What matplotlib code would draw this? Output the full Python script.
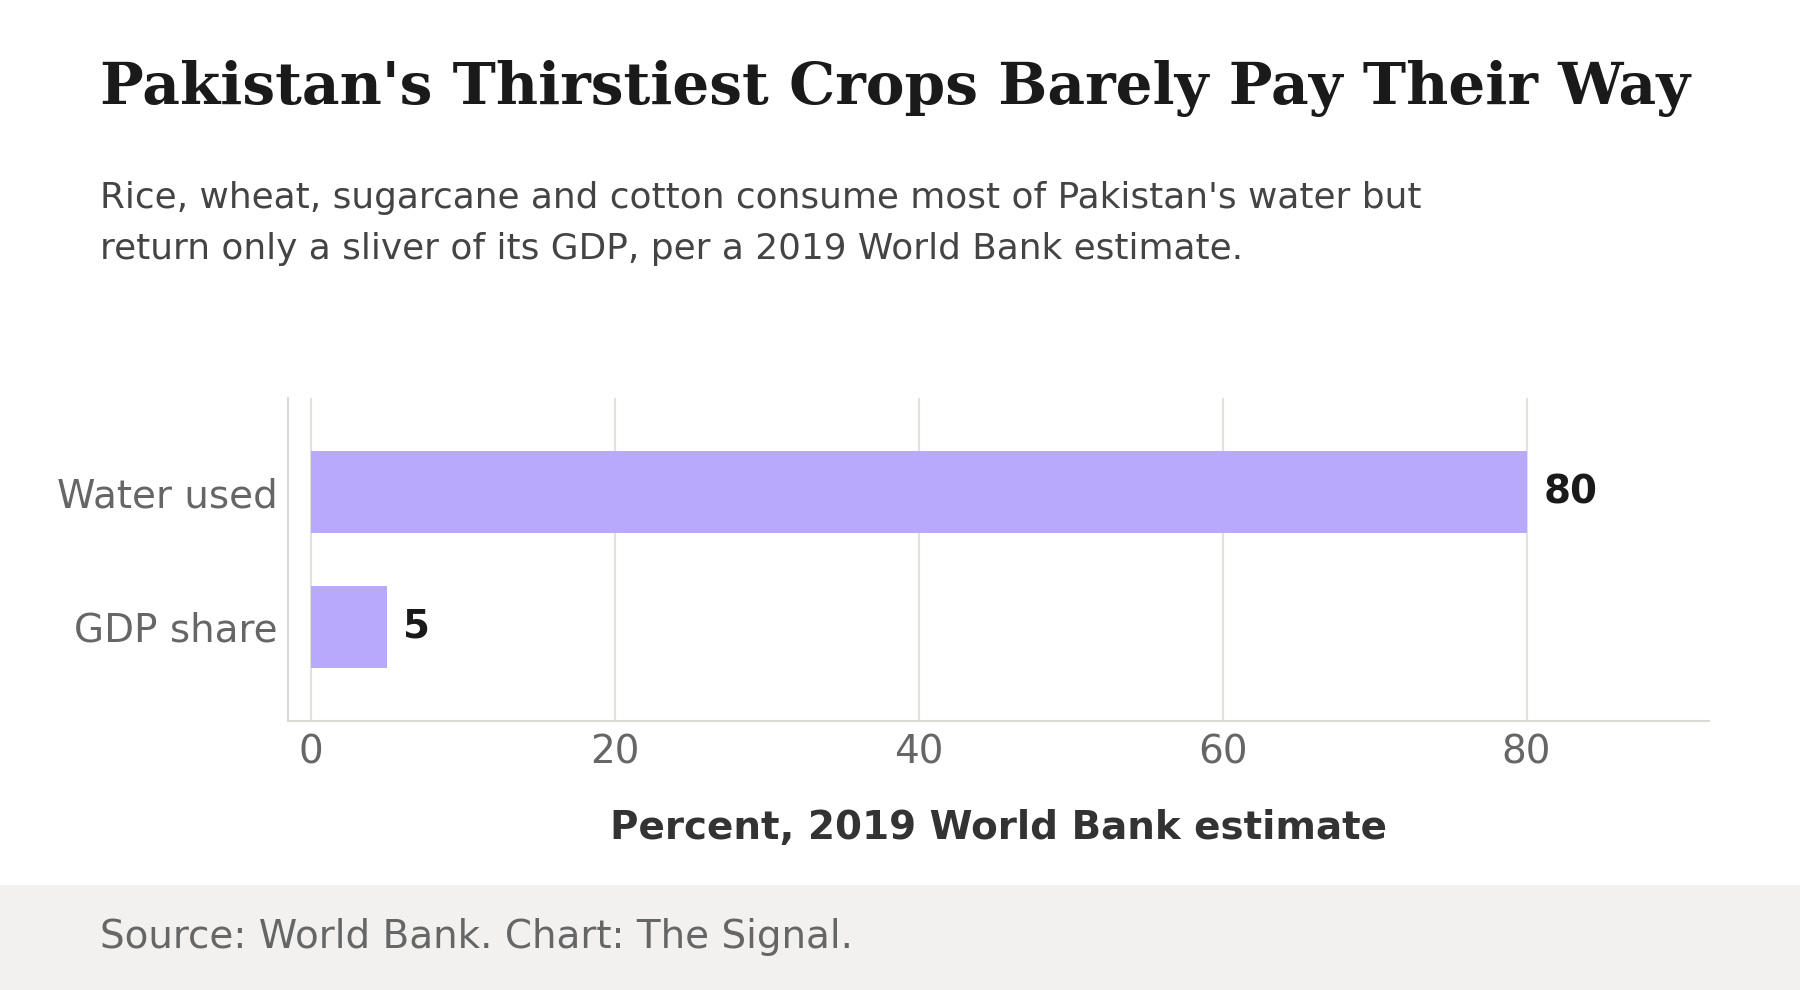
"""Pakistan: água usada x participação no PIB das culturas mais sedentas."""

import matplotlib

matplotlib.use("Agg")
import matplotlib.pyplot as plt  # noqa: E402
from matplotlib.patches import Rectangle  # noqa: E402

# dados
categorias = ["GDP share", "Water used"]
valores = [5, 80]

_ROXO = "#b8a9fd"
_TITULO = "#1a1a1a"
_CINZA = "#666666"
_GRADE = "#e3e1de"

fig = plt.figure(figsize=(18, 9.9), dpi=100)
fig.patch.set_facecolor("white")

# --- faixa cinza do rodapé ---
fig.patches.append(Rectangle((0, 0), 1, 0.106, transform=fig.transFigure,
                             facecolor="#f2f1ef", edgecolor="none", zorder=0))

# --- título e subtítulo ---
fig.text(0.0555, 0.895, "Pakistan's Thirstiest Crops Barely Pay Their Way",
         family="DejaVu Serif", fontweight="bold", fontsize=41.9,
         color=_TITULO, va="baseline")
fig.text(0.0555, 0.790, "Rice, wheat, sugarcane and cotton consume most of Pakistan's water but",
         fontsize=25.8, color="#444444", va="baseline")
fig.text(0.0555, 0.738, "return only a sliver of its GDP, per a 2019 World Bank estimate.",
         fontsize=25.8, color="#444444", va="baseline")

# --- gráfico de barras horizontais ---
ax = fig.add_axes((0.16, 0.2717, 0.7894, 0.3263))
pos = list(range(len(categorias)))
ax.barh(pos, valores, height=0.61, color=_ROXO, zorder=2)
ax.set_yticks(pos, categorias)
ax.set_xticks([0, 20, 40, 60, 80])
ax.set_xlim(-1.5, 92)
ax.set_ylim(-0.7, 1.7)

ax.grid(axis="x", color=_GRADE, linewidth=1.5, zorder=0)
ax.set_axisbelow(True)
for lado in ["top", "right"]:
    ax.spines[lado].set_visible(False)
for lado in ["left", "bottom"]:
    ax.spines[lado].set_color("#dcdad6")
    ax.spines[lado].set_linewidth(1.5)
ax.tick_params(length=0, labelsize=28, labelcolor=_CINZA)
ax.tick_params(axis="y", pad=7.5)
ax.tick_params(axis="x", pad=9)

ax.set_xlabel("Percent, 2019 World Bank estimate", fontsize=28,
              fontweight="bold", color="#333333", va="baseline")
ax.xaxis.set_label_coords(0.5, -0.365)

# rótulo do valor na ponta de cada barra
for y, v in zip(pos, valores):
    ax.annotate(f"{v}", (v, y), xytext=(12, 0), textcoords="offset points",
                va="center", ha="left", fontsize=28, fontweight="bold",
                color=_TITULO)

# --- rodapé ---
fig.text(0.0555, 0.0424, "Source: World Bank. Chart: The Signal.",
         fontsize=28, color=_CINZA, va="baseline")

fig.savefig("out.png", dpi=100)
plt.close(fig)
